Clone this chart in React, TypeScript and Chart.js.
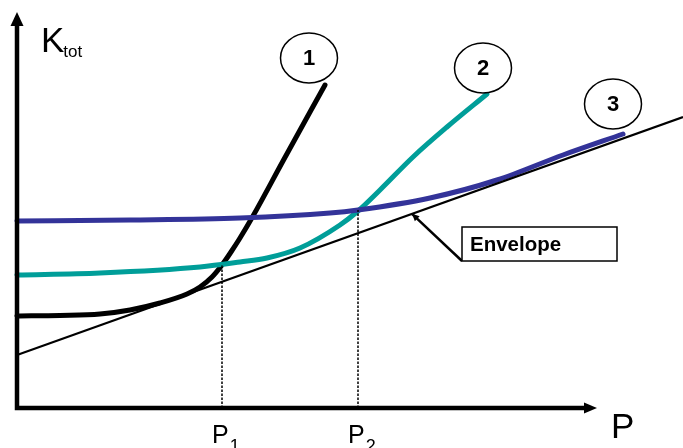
import React, { useEffect, useRef } from "react";
import { Chart, registerables } from "chart.js";

Chart.register(...registerables);

// Cost curves K_tot(P) for three units, and their common envelope (schematic units)
const curve1X = [0, 2.15, 4.15, 5.65, 7.15, 8.5, 9.15, 9.75, 10.25, 10.7, 11.15, 11.8, 13.3, 14.65, 15.4];
const curve1Y = [4.6, 4.63, 4.7, 4.9, 5.25, 5.7, 6.05, 6.55, 7.15, 7.8, 8.5, 9.6, 12.35, 14.8, 16.15];

const curve2X = [0, 4.15, 9.15, 11.15, 12.5, 14.15, 16.15, 17.05, 18.15, 19.8, 21.5, 23.5];
const curve2Y = [6.65, 6.75, 7.05, 7.3, 7.5, 8.0, 9.15, 9.85, 10.9, 12.55, 14.05, 15.7];

const curve3X = [0, 5.65, 11.15, 15.65, 17.05, 20.65, 24.0, 27.3, 30.3];
const curve3Y = [9.35, 9.4, 9.5, 9.75, 9.9, 10.5, 11.4, 12.65, 13.7];

// Envelope: straight line under the three curves
const envelopeX = [0, 33.3];
const envelopeY = [2.65, 14.55];

// Operating points where the curves meet
const breakP = [10.25, 17.05];
const breakK = [7.15, 9.9];
const breakLabels = ["1", "2"];

const curveLabels = ["1", "2", "3"];

// Axis extents
const X_MIN = -0.85;
const X_MAX = 33.3;
const Y_MIN = -2;
const Y_MAX = 20.4;
const X_AXIS_END = 29.0;
const Y_AXIS_END = 19.8;

const FONT = "'Liberation Sans', Arial, Helvetica, sans-serif";

const toPts = (xs: number[], ys: number[]) => xs.map((x, i) => ({ x, y: ys[i] }));

// Placement of the annotations, in data units
const bubbleAt = [
  { x: 14.6, y: 17.5 },
  { x: 23.3, y: 17.0 },
  { x: 29.8, y: 15.2 },
];
const boxFrom = { x: 22.25, y: 9.05 };
const boxTo = { x: 30.0, y: 7.35 };
const arrowTipX = 19.75;

const annotations = {
  id: "schematicAnnotations",
  afterDatasetsDraw(chart: any) {
    const { ctx, scales } = chart;
    const sx = (v: number) => scales.x.getPixelForValue(v);
    const sy = (v: number) => scales.y.getPixelForValue(v);
    ctx.save();

    // axes with arrowheads
    const ox = sx(0);
    const oy = sy(0);
    const yTip = sy(Y_AXIS_END);
    const xTip = sx(X_AXIS_END);
    ctx.strokeStyle = "#000";
    ctx.fillStyle = "#000";
    ctx.lineWidth = 4.5;
    ctx.lineCap = "butt";
    ctx.beginPath();
    ctx.moveTo(ox, oy + 2.25);
    ctx.lineTo(ox, yTip + 12);
    ctx.moveTo(ox - 2.25, oy);
    ctx.lineTo(xTip - 10, oy);
    ctx.stroke();
    ctx.beginPath();
    ctx.moveTo(ox, yTip);
    ctx.lineTo(ox - 6.5, yTip + 14);
    ctx.lineTo(ox + 6.5, yTip + 14);
    ctx.closePath();
    ctx.fill();
    ctx.beginPath();
    ctx.moveTo(xTip, oy);
    ctx.lineTo(xTip - 13, oy - 5.5);
    ctx.lineTo(xTip - 13, oy + 5.5);
    ctx.closePath();
    ctx.fill();

    // axis titles
    ctx.textAlign = "left";
    ctx.textBaseline = "alphabetic";
    ctx.font = `35px ${FONT}`;
    const kx = sx(1.2);
    const ky = sy(17.8);
    ctx.fillText("K", kx, ky);
    const kw = ctx.measureText("K").width;
    ctx.font = `17px ${FONT}`;
    ctx.fillText("tot", kx + kw - 1, ky + 5);

    ctx.font = `35px ${FONT}`;
    ctx.fillText("P", sx(29.7), sy(-1.5));

    // P1, P2 labels under the axis
    breakP.forEach((p, i) => {
      ctx.font = `25px ${FONT}`;
      const lx = sx(p) - 10;
      const ly = sy(-1.75);
      ctx.fillText("P", lx, ly);
      const pw = ctx.measureText("P").width;
      ctx.font = `18px ${FONT}`;
      ctx.fillText(breakLabels[i], lx + pw + 1, ly + 9);
    });

    // numbered bubbles
    ctx.lineWidth = 1.5;
    bubbleAt.forEach((c, i) => {
      const cx = sx(c.x);
      const cy = sy(c.y);
      ctx.fillStyle = "#fff";
      ctx.beginPath();
      ctx.ellipse(cx, cy, 28.5, 25, 0, 0, Math.PI * 2);
      ctx.fill();
      ctx.stroke();
      ctx.fillStyle = "#000";
      ctx.font = `bold 22px ${FONT}`;
      ctx.textAlign = "center";
      ctx.textBaseline = "middle";
      ctx.fillText(curveLabels[i], cx, cy + 1);
    });

    // "Envelope" callout
    const slope = (envelopeY[1] - envelopeY[0]) / (envelopeX[1] - envelopeX[0]);
    const tipX = sx(arrowTipX);
    const tipY = sy(envelopeY[0] + slope * (arrowTipX - envelopeX[0]));
    const bx0 = sx(boxFrom.x);
    const by0 = sy(boxFrom.y);
    const bx1 = sx(boxTo.x);
    const by1 = sy(boxTo.y);
    ctx.strokeStyle = "#000";
    ctx.lineWidth = 2.5;
    ctx.beginPath();
    ctx.moveTo(bx0, by1);
    ctx.lineTo(tipX, tipY);
    ctx.stroke();
    const ang = Math.atan2(tipY - by1, tipX - bx0);
    ctx.beginPath();
    ctx.moveTo(tipX, tipY);
    ctx.lineTo(tipX - 8 * Math.cos(ang - 0.45), tipY - 8 * Math.sin(ang - 0.45));
    ctx.lineTo(tipX - 8 * Math.cos(ang + 0.45), tipY - 8 * Math.sin(ang + 0.45));
    ctx.closePath();
    ctx.fill();

    ctx.fillStyle = "#fff";
    ctx.fillRect(bx0, by0, bx1 - bx0, by1 - by0);
    ctx.lineWidth = 1.5;
    ctx.strokeRect(bx0, by0, bx1 - bx0, by1 - by0);
    ctx.fillStyle = "#000";
    ctx.font = `bold 20.5px ${FONT}`;
    ctx.textAlign = "left";
    ctx.textBaseline = "middle";
    ctx.fillText("Envelope", bx0 + 8, (by0 + by1) / 2 + 1);

    ctx.restore();
  },
};

export default function App() {
  const canvasRef = useRef<HTMLCanvasElement>(null);

  useEffect(() => {
    if (!canvasRef.current) return;
    const curveStyle = {
      pointRadius: 0,
      borderWidth: 5,
      cubicInterpolationMode: "monotone" as const,
      borderCapStyle: "round" as const,
      borderJoinStyle: "round" as const,
      fill: false,
    };
    const guideStyle = {
      showLine: true,
      borderColor: "#000",
      borderWidth: 1.5,
      borderDash: [2.5, 1.5],
      pointRadius: 0,
    };
    const chart = new Chart(canvasRef.current, {
      type: "scatter",
      data: {
        datasets: [
          {
            label: "P1 guide",
            data: [
              { x: breakP[0], y: 0 },
              { x: breakP[0], y: breakK[0] },
            ],
            ...guideStyle,
          },
          {
            label: "P2 guide",
            data: [
              { x: breakP[1], y: 0 },
              { x: breakP[1], y: breakK[1] },
            ],
            ...guideStyle,
          },
          {
            label: "Envelope",
            data: toPts(envelopeX, envelopeY),
            showLine: true,
            borderColor: "#000",
            borderWidth: 2.2,
            pointRadius: 0,
          },
          {
            label: "3",
            data: toPts(curve3X, curve3Y),
            showLine: true,
            borderColor: "#333399",
            ...curveStyle,
          },
          {
            label: "2",
            data: toPts(curve2X, curve2Y),
            showLine: true,
            borderColor: "#009e99",
            ...curveStyle,
          },
          {
            label: "1",
            data: toPts(curve1X, curve1Y),
            showLine: true,
            borderColor: "#000",
            ...curveStyle,
          },
        ],
      },
      options: {
        animation: false,
        responsive: false,
        layout: { padding: 0 },
        plugins: {
          legend: { display: false },
          tooltip: { enabled: false },
        },
        scales: {
          x: { type: "linear", min: X_MIN, max: X_MAX, display: false },
          y: { type: "linear", min: Y_MIN, max: Y_MAX, display: false },
        },
      },
      plugins: [annotations],
    });
    return () => chart.destroy();
  }, []);

  return (
    <div style={{ position: "fixed", left: 0, top: 0, width: 683, height: 448, background: "#fff" }}>
      <canvas ref={canvasRef} width={683} height={448} style={{ display: "block" }} />
    </div>
  );
}
